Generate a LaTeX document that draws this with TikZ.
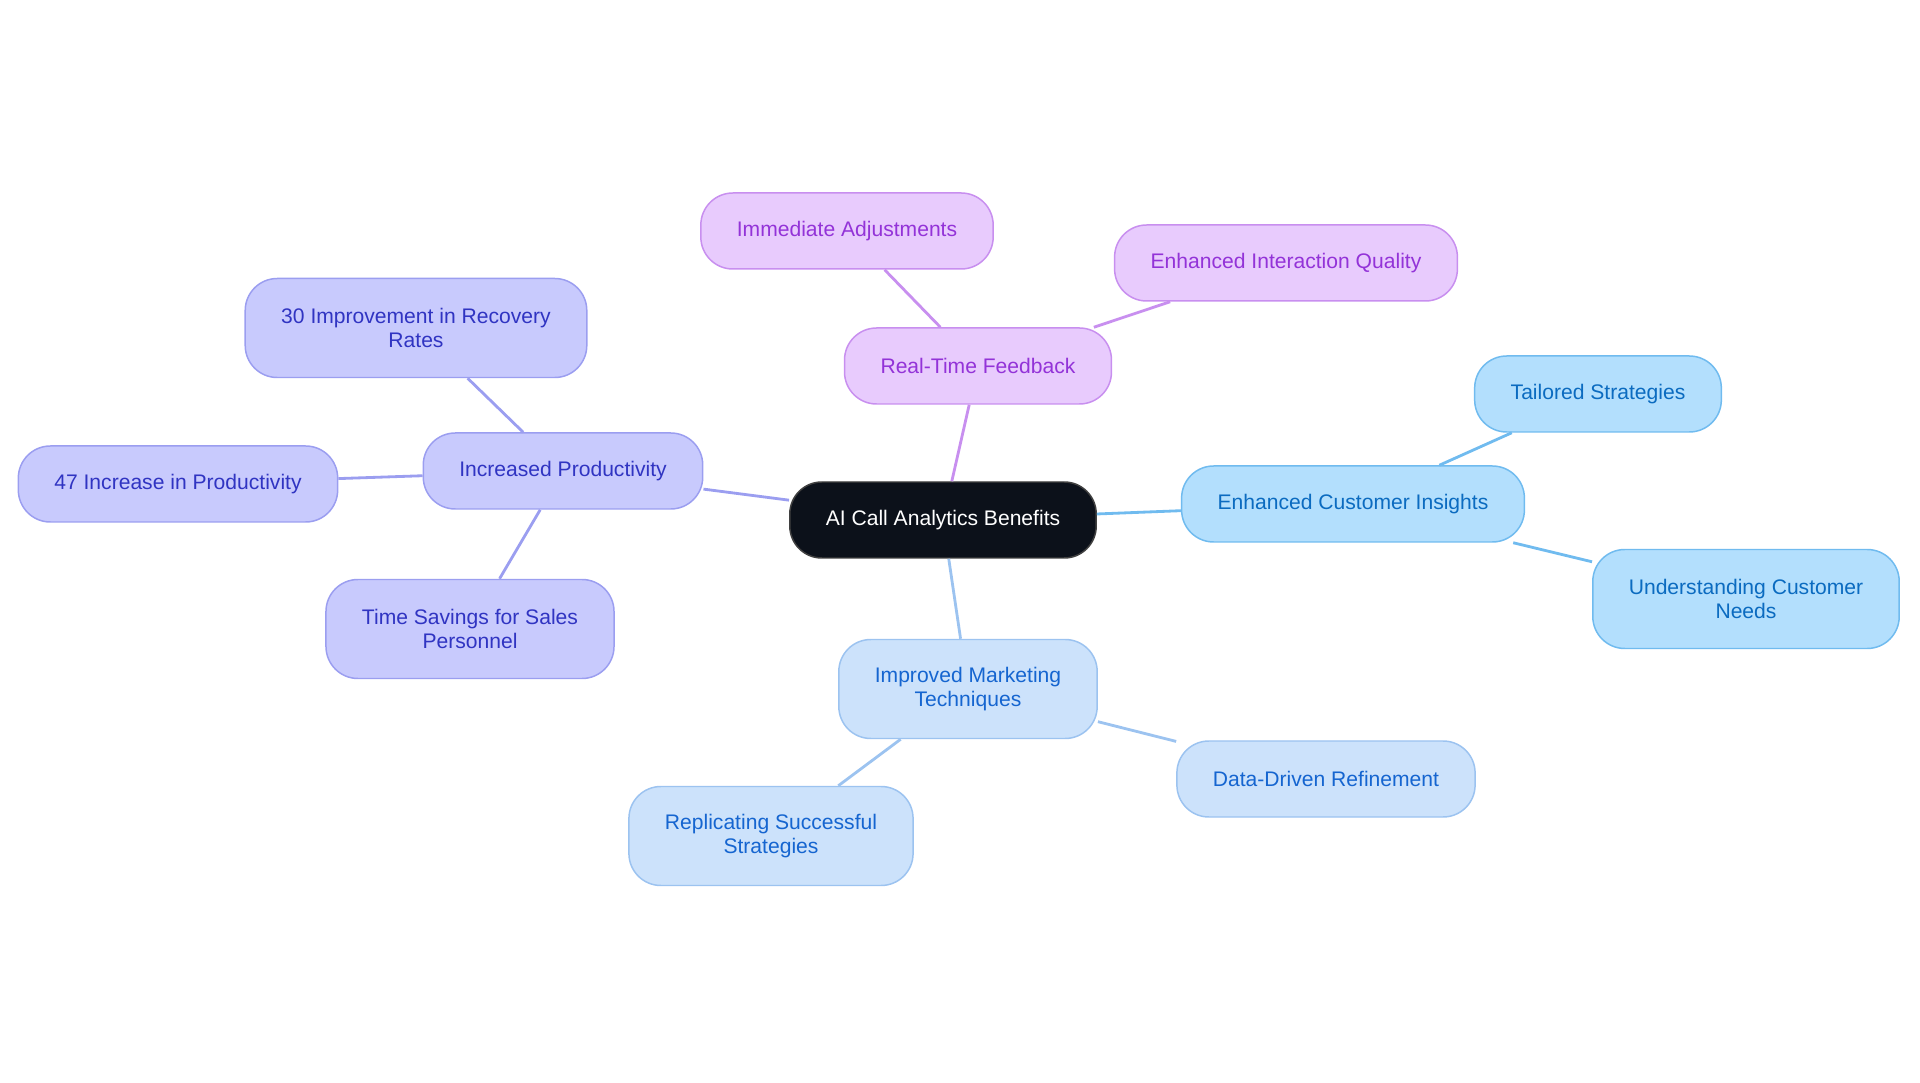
\documentclass[tikz,border=0pt]{standalone}
\usepackage{fontspec}
\setmainfont{Liberation Sans}
\usepackage{xcolor}
\usepackage{tikz}
\usetikzlibrary{positioning}

\definecolor{hubfill}{HTML}{0C111A}
\definecolor{prodfill}{HTML}{C8CAFD} \definecolor{prodline}{HTML}{9B9EF0} \definecolor{prodtext}{HTML}{3034C2}
\definecolor{feedfill}{HTML}{E8CBFD} \definecolor{feedline}{HTML}{C88FEF} \definecolor{feedtext}{HTML}{9333D8}
\definecolor{insfill}{HTML}{B3DFFD}  \definecolor{insline}{HTML}{70BBEF}  \definecolor{instext}{HTML}{0B6BC0}
\definecolor{mktfill}{HTML}{CCE2FB}  \definecolor{mktline}{HTML}{9CC3F0}  \definecolor{mkttext}{HTML}{1565D0}

\begin{document}
\begin{tikzpicture}[x=0.2mm,y=-0.2mm,
  pill/.style={rounded corners=0.64cm, line width=0.85pt, align=center, inner xsep=0.72cm, inner ysep=0.5cm,
    minimum height=1.52cm, font=\fontsize{12}{14}\selectfont},
  twoline/.style={minimum height=1.98cm},
  hub/.style={pill, fill=hubfill, draw=black!75, text=white},
  prod/.style={pill, fill=prodfill, draw=prodline, text=prodtext},
  feed/.style={pill, fill=feedfill, draw=feedline, text=feedtext},
  ins/.style={pill, fill=insfill, draw=insline, text=instext},
  mkt/.style={pill, fill=mktfill, draw=mktline, text=mkttext},
  link/.style={line width=1.6pt}]
\useasboundingbox (0,0) rectangle (1920,1083);
% centre and the four branches
\node[hub] (ai) at (943,520) {AI Call Analytics Benefits};
\node[feed] (feedback) at (978,366) {Real-Time Feedback};
\node[feed] (adjust) at (847,231) {Immediate Adjustments};
\node[feed] (quality) at (1286,263) {Enhanced Interaction Quality};
\node[ins] (insights) at (1353,504) {Enhanced Customer Insights};
\node[ins] (tailored) at (1598,394) {Tailored Strategies};
\node[ins,twoline] (needs) at (1746,599) {Understanding Customer\\Needs};
\node[mkt,twoline] (marketing) at (968,689) {Improved Marketing\\Techniques};
\node[mkt] (refine) at (1326,779) {Data-Driven Refinement};
\node[mkt,twoline] (replicate) at (771,836) {Replicating Successful\\Strategies};
\node[prod] (productivity) at (563,471) {Increased Productivity};
\node[prod,twoline] (recovery) at (416,328) {30 Improvement in Recovery\\Rates};
\node[prod] (increase) at (178,484) {47 Increase in Productivity};
\node[prod,twoline] (savings) at (470,629) {Time Savings for Sales\\Personnel};
% connectors
\draw[link,feedline] (ai) -- (feedback) (feedback) -- (adjust) (feedback) -- (quality);
\draw[link,insline] (ai) -- (insights) (insights) -- (tailored) (insights) -- (needs);
\draw[link,mktline] (ai) -- (marketing) (marketing) -- (refine) (marketing) -- (replicate);
\draw[link,prodline] (ai) -- (productivity) (productivity) -- (recovery) (productivity) -- (increase) (productivity) -- (savings);
\end{tikzpicture}
\end{document}
